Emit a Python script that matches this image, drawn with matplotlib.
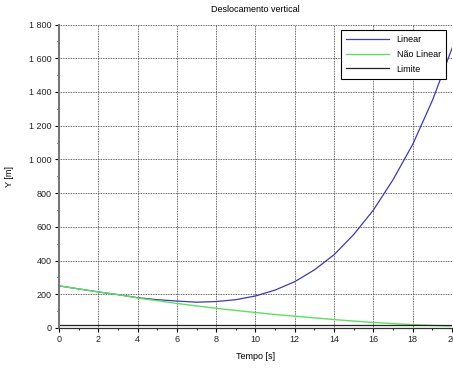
import matplotlib
matplotlib.use("Agg")
import matplotlib.pyplot as plt
from matplotlib.ticker import MultipleLocator, FuncFormatter

# dados
tempo = [0, 1, 2, 3, 4, 5, 6, 7, 8, 9, 10, 11, 12, 13, 14, 15, 16, 17, 18, 19, 20]
y_linear = [250, 232, 214, 198, 180, 168, 160, 153, 157, 168, 190,
            225, 275, 345, 435, 555, 700, 880, 1090, 1350, 1660]
y_nao_linear = [250, 232, 214, 198, 178, 162, 146, 131, 117, 104, 92,
                80, 70, 60, 50, 41, 33, 26, 20, 15, 12]
limite = 15

plt.rcParams['font.family'] = ['Liberation Sans', 'DejaVu Sans']

fig = plt.figure(figsize=(4.53, 3.68), dpi=100)
ax = fig.add_axes([0.130, 0.1087, 0.868, 0.8247])

ax.plot(tempo, y_linear, color='#3b3bb0', linewidth=0.9, label='Linear')
ax.plot(tempo, y_nao_linear, color='#5fe05f', linewidth=1.0, label='Não Linear')
ax.axhline(limite, color='#222222', linewidth=0.9, label='Limite')

ax.set_xlim(0, 20)
ax.set_ylim(0, 1800)
ax.xaxis.set_major_locator(MultipleLocator(2))
ax.xaxis.set_minor_locator(MultipleLocator(1))
ax.yaxis.set_major_locator(MultipleLocator(200))
ax.yaxis.set_minor_locator(MultipleLocator(100))
ax.yaxis.set_major_formatter(FuncFormatter(lambda v, p: f"{int(v):,}".replace(",", " ")))

ax.grid(which='major', color='#333333', linestyle=(0, (1, 1)), linewidth=0.6)
ax.tick_params(which='major', direction='out', length=3, width=0.8,
               labelsize=6.5, labelcolor='#222222', pad=2)
ax.tick_params(which='minor', direction='out', length=1.5, width=0.6)

for s in ('top', 'right'):
    ax.spines[s].set_visible(False)
ax.spines['left'].set_color('#777777')
ax.spines['left'].set_linewidth(1.5)
ax.spines['bottom'].set_color('#333333')
ax.spines['bottom'].set_linewidth(0.9)

ax.set_title('Deslocamento vertical', fontsize=6.5, pad=9)
ax.set_xlabel('Tempo [s]', fontsize=6.5, labelpad=6)
ax.set_ylabel('Y [m]', fontsize=6.5, labelpad=11)

leg = ax.legend(loc='upper right', bbox_to_anchor=(0.995, 0.997), fontsize=6.5,
                frameon=True, fancybox=False, handlelength=4.8,
                borderpad=0.55, labelspacing=0.65)
leg.get_frame().set_edgecolor('black')
leg.get_frame().set_linewidth(0.8)
leg.get_frame().set_alpha(1)

fig.savefig('out.png', dpi=100)
